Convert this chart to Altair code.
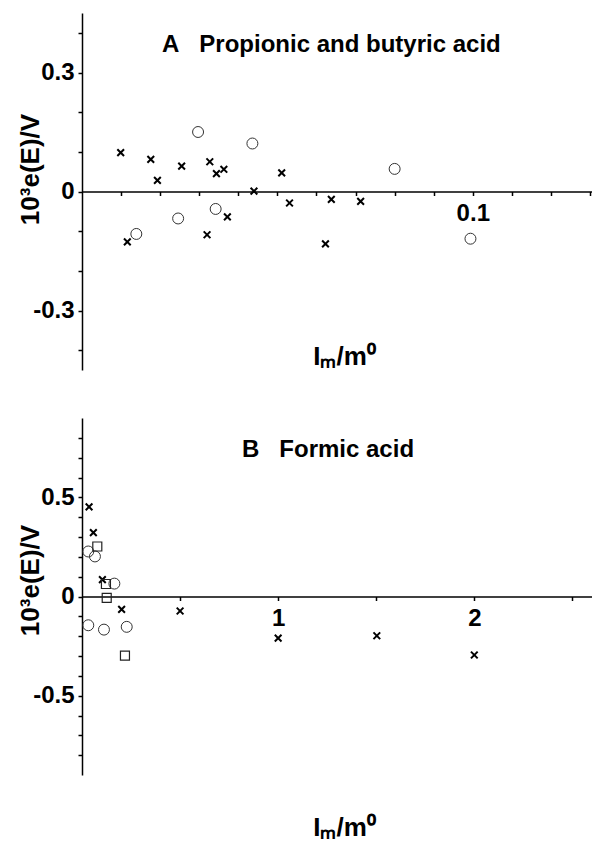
import altair as alt
import pandas as pd

# ---- Panel A: propionic and butyric acid ----
a_cross_x = [0.0099, 0.0176, 0.0193, 0.0255, 0.0327, 0.0344, 0.0363, 0.0440,
             0.0511, 0.0116, 0.0320, 0.0372, 0.0531, 0.0638, 0.0713, 0.0623]
a_cross_y = [0.098, 0.081, 0.028, 0.064, 0.075, 0.045, 0.056, 0.001,
             0.047, -0.127, -0.109, -0.064, -0.029, -0.020, -0.025, -0.132]
a_circ_x = [0.0297, 0.0436, 0.0139, 0.0246, 0.0342, 0.0800, 0.0994]
a_circ_y = [0.150, 0.121, -0.107, -0.068, -0.044, 0.057, -0.119]

# ---- Panel B: formic acid ----
b_cross_x = [0.036, 0.058, 0.104, 0.202, 0.50, 1.00, 1.503, 2.00]
b_cross_y = [0.452, 0.322, 0.085, -0.065, -0.073, -0.21, -0.198, -0.295]
b_circ_x = [0.032, 0.066, 0.165, 0.032, 0.112, 0.228]
b_circ_y = [0.227, 0.202, 0.065, -0.145, -0.167, -0.153]
b_sq_x = [0.078, 0.122, 0.126, 0.219]
b_sq_y = [0.252, 0.063, -0.007, -0.298]

a_xticks = [0.01, 0.02, 0.03, 0.04, 0.05, 0.06, 0.07, 0.08, 0.09, 0.10, 0.11, 0.12, 0.13]
a_yticks = [-0.4, -0.3, -0.2, -0.1, 0.0, 0.1, 0.2, 0.3, 0.4]
b_xticks = [0.5, 1.0, 1.5, 2.0, 2.5]
b_yticks = [-0.8, -0.7, -0.6, -0.5, -0.4, -0.3, -0.2, -0.1, 0.0,
            0.1, 0.2, 0.3, 0.4, 0.5, 0.6, 0.7, 0.8]

title_a = "A\u00a0\u00a0\u00a0Propionic and butyric acid"
title_b = "B\u00a0\u00a0\u00a0Formic acid"
y_title = "10³e(E)/V"
x_title = "Iₘ/m⁰"

W, H = 510, 357
FONT = "Liberation Sans"
CROSS = "M-1,-1L1,1M-1,1L1,-1"


def panel(cx, cy, ox, oy, sx, sy, xdom, ydom, xticks, yticks, xlab, ylab, title,
          ty_title, tx, yty):
    def lab_expr(pairs):
        parts = []
        for v, s in pairs:
            parts.append(f"abs(datum.value - ({v})) < 1e-6 ? '{s}' : ")
        return "".join(parts) + "''"

    xaxis = alt.Axis(values=xticks, labelExpr=lab_expr(xlab), offset=-H / 2,
                     tickSize=4, labelPadding=6, grid=False, title=x_title,
                     labelOverlap=False,
                     titleX=262, titleY=ty_title, titleBaseline="alphabetic",
                     titleAlign="center")
    yaxis = alt.Axis(values=yticks, labelExpr=lab_expr(ylab), tickSize=4,
                     labelOverlap=False,
                     labelPadding=4, grid=False, title=y_title, titleAngle=270,
                     titleX=-44, titleY=yty, titleAlign="center",
                     titleBaseline="alphabetic")
    xs = alt.Scale(domain=xdom, nice=False, zero=False)
    ys = alt.Scale(domain=ydom, nice=False, zero=False)

    layers = []
    d = pd.DataFrame({"x": cx, "y": cy})
    layers.append(alt.Chart(d).mark_point(shape=CROSS, size=45, filled=False,
                                          color="black", strokeWidth=2, opacity=1).encode(
        x=alt.X("x:Q", scale=xs, axis=xaxis), y=alt.Y("y:Q", scale=ys, axis=yaxis)))
    d = pd.DataFrame({"x": ox, "y": oy})
    layers.append(alt.Chart(d).mark_point(shape="circle", size=120, filled=False,
                                          color="#333", strokeWidth=1, opacity=1).encode(
        x=alt.X("x:Q", scale=xs, axis=xaxis), y=alt.Y("y:Q", scale=ys, axis=yaxis)))
    if sx:
        d = pd.DataFrame({"x": sx, "y": sy})
        layers.append(alt.Chart(d).mark_point(shape="square", size=81, filled=False,
                                              color="#222", strokeWidth=1.2, opacity=1).encode(
            x=alt.X("x:Q", scale=xs, axis=xaxis), y=alt.Y("y:Q", scale=ys, axis=yaxis)))
    t = pd.DataFrame({"t": [title]})
    layers.append(alt.Chart(t).mark_text(align="left", baseline="middle", fontSize=24,
                                         fontWeight="bold", font=FONT, color="black").encode(
        text="t:N", x=alt.value(tx), y=alt.value(32)))
    return alt.layer(*layers).properties(width=W, height=H)


pa = panel(a_cross_x, a_cross_y, a_circ_x, a_circ_y, [], [], [0, 0.1305], [-0.45, 0.45],
           a_xticks, a_yticks, [(0.1, "0.1")], [(0.3, "0.3"), (0, "0"), (-0.3, "-0.3")],
           title_a, 173, 80, 156)
pb = panel(b_cross_x, b_cross_y, b_circ_x, b_circ_y, b_sq_x, b_sq_y, [0, 2.6], [-0.9, 0.9],
           b_xticks, b_yticks, [(1, "1"), (2, "2")], [(0.5, "0.5"), (0, "0"), (-0.5, "-0.5")],
           title_b, 239, 160, 162)

chart = alt.vconcat(pa, pb, spacing=48).properties(
    padding={"left": 9, "top": 5, "right": 0, "bottom": 0}
).configure_view(stroke=None).configure_axis(
    domainColor="black", tickColor="black", domainWidth=1.5, tickWidth=1.5,
    labelFont=FONT, labelFontSize=24, labelFontWeight="bold", labelColor="black",
    titleFont=FONT, titleFontSize=26, titleFontWeight="bold", titleColor="black",
    labelOverlap=False,
)

chart.save("out.html", embed_options={"renderer": "svg", "actions": False})
